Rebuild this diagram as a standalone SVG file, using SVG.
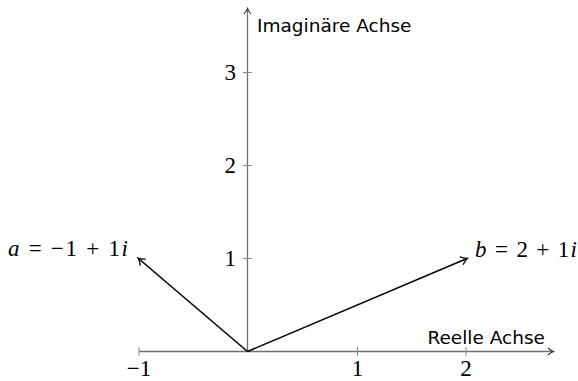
<svg xmlns="http://www.w3.org/2000/svg" width="578" height="381" viewBox="0 0 578 381">
<style>
.axis{stroke:#6e6e6e;stroke-width:1.3;fill:none}
.tick{stroke:#8a8a8a;stroke-width:1;fill:none}
.vec{stroke:#000;stroke-width:1.6;fill:none}
.lab{font-family:"DejaVu Sans",sans-serif;font-size:18.5px;fill:#000}
.num{font-family:"Liberation Serif",serif;font-size:23px;fill:#000}
.math{font-family:"Liberation Serif",serif;font-size:23px;fill:#000}
.it{font-style:italic}
</style>
<defs>
<marker id="ag" markerWidth="10" markerHeight="10" refX="8" refY="5" orient="auto" markerUnits="userSpaceOnUse">
<path d="M3,1.5 Q6,4.2 8.5,5 Q6,5.8 3,8.5" stroke="#333" stroke-width="1.1" fill="none"/>
</marker>
<marker id="ab" markerWidth="12" markerHeight="12" refX="9" refY="6" orient="auto" markerUnits="userSpaceOnUse">
<path d="M3,1.8 Q6.5,5 9.5,6 Q6.5,7 3,10.2" stroke="#000" stroke-width="1.3" fill="none"/>
</marker>
</defs>
<g id="axes">
<line class="axis" x1="139" y1="351.5" x2="553" y2="351.5" marker-end="url(#ag)"/>
<line class="axis" x1="247.5" y1="351.5" x2="247.5" y2="9" marker-end="url(#ag)"/>
</g>
<g id="ticks">
<line class="tick" x1="139" y1="347" x2="139" y2="356"/>
<line class="tick" x1="357.5" y1="347" x2="357.5" y2="356"/>
<line class="tick" x1="466" y1="347" x2="466" y2="356"/>
<line class="tick" x1="243" y1="258.5" x2="252" y2="258.5"/>
<line class="tick" x1="243" y1="165.5" x2="252" y2="165.5"/>
<line class="tick" x1="243" y1="72.5" x2="252" y2="72.5"/>
</g>
<g id="tick-labels">
<text class="num" x="139" y="376" text-anchor="middle">−1</text>
<text class="num" x="357.5" y="376" text-anchor="middle">1</text>
<text class="num" x="466" y="376" text-anchor="middle">2</text>
<text class="num" x="236" y="266" text-anchor="end">1</text>
<text class="num" x="236" y="173" text-anchor="end">2</text>
<text class="num" x="236" y="80" text-anchor="end">3</text>
</g>
<g id="axis-labels">
<text class="lab" x="257" y="32">Imaginäre Achse</text>
<text class="lab" x="545" y="343.5" text-anchor="end">Reelle Achse</text>
</g>
<g id="connectors">
<line class="vec" x1="247.5" y1="351.5" x2="138.5" y2="258.5" marker-end="url(#ab)"/>
<line class="vec" x1="247.5" y1="351.5" x2="467" y2="258.5" marker-end="url(#ab)"/>
</g>
<g id="node-a">
<text class="math" x="8" y="256" textLength="120" lengthAdjust="spacing"><tspan class="it">a</tspan> = −1 + 1<tspan class="it">i</tspan></text>
</g>
<g id="node-b">
<text class="math" x="475" y="256.5" textLength="102" lengthAdjust="spacing"><tspan class="it">b</tspan> = 2 + 1<tspan class="it">i</tspan></text>
</g>
</svg>
